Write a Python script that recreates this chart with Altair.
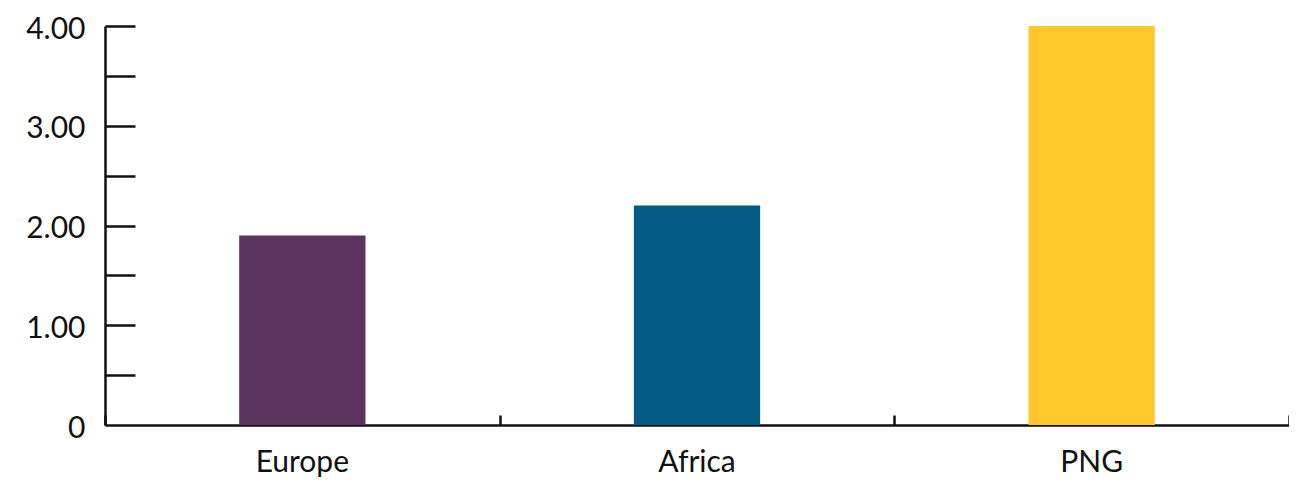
import altair as alt
import pandas as pd

regions = ["Europe", "Africa", "PNG"]
values = [1.9, 2.2, 4.0]
colors = ["#5c325e", "#035a84", "#ffc72c"]
y_label_values = [0, 1, 2, 3, 4]
y_tick_values = [0.5, 1, 1.5, 2, 2.5, 3, 3.5, 4]

df = pd.DataFrame({"region": regions, "value": values})

FONT = "Lato"
INK = "#111111"
W, H = 1184, 399

xscale = alt.Scale(domain=regions, paddingInner=0, paddingOuter=0)
yscale = alt.Scale(domain=[0, 4], nice=False, zero=True)

bars = alt.Chart(df).mark_bar(width=alt.RelativeBandSize(0.32)).encode(
    x=alt.X("region:N", scale=xscale, axis=alt.Axis(
        title=None, orient="bottom", ticks=False, domain=True,
        domainColor=INK, domainWidth=2.5, labelAngle=0, labelFont=FONT,
        labelFontSize=30, labelColor=INK, labelPadding=22, grid=False)),
    y=alt.Y("value:Q", scale=yscale, axis=alt.Axis(
        title=None, values=y_label_values,
        labelExpr="datum.value == 0 ? '0' : format(datum.value, '.2f')",
        ticks=False, domain=True, domainColor=INK, domainWidth=2.5,
        labelFont=FONT, labelFontSize=30, labelColor=INK, labelPadding=20,
        labelOffset=3, grid=False)),
    color=alt.Color("region:N", scale=alt.Scale(domain=regions, range=colors), legend=None),
)

ticks = alt.Chart(df).mark_bar(opacity=0).encode(
    x=alt.X("region:N", scale=xscale, axis=alt.Axis(
        title=None, orient="top", offset=-H, labels=False, domain=False,
        ticks=True, tickBand="extent", tickSize=10, tickWidth=2.5,
        tickColor=INK, grid=False)),
    y=alt.Y("value:Q", scale=yscale, axis=alt.Axis(
        title=None, orient="right", offset=-W, values=y_tick_values,
        labels=False, domain=False, ticks=True, tickSize=30, tickWidth=2.5,
        tickColor=INK, grid=False)),
)

chart = alt.layer(bars, ticks).resolve_axis(
    x="independent", y="independent"
).properties(
    width=W, height=H,
    autosize=alt.AutoSizeParams(type="none"),
    padding={"left": 97, "top": 18, "right": 0, "bottom": 57},
).configure_view(stroke=None)

chart.save("out.html", embed_options={"renderer": "svg", "actions": False})
